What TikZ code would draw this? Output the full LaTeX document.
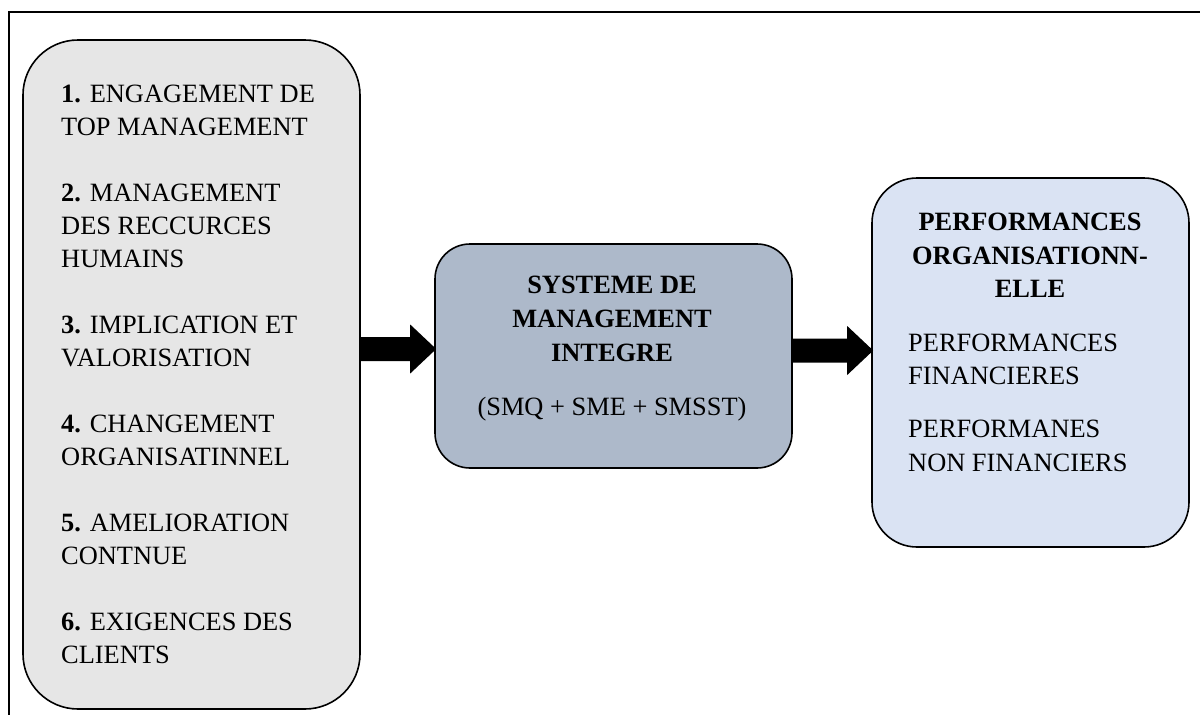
\documentclass[tikz,border=0pt]{standalone}
\usepackage{fontspec}
\setmainfont{Liberation Serif}
\usetikzlibrary{calc}

\definecolor{inputgray}{HTML}{E6E6E6}
\definecolor{corebluegray}{HTML}{ADB9CA}
\definecolor{resultblue}{HTML}{DAE3F3}

\newcommand\diagfont{\fontsize{26.4}{33.4}\selectfont}

\tikzset{
  panel/.style={draw=black, line width=1.6pt, inner sep=0pt},
  linetext/.style={inner sep=0pt, anchor=base west, font=\diagfont},
  centertext/.style={inner sep=0pt, anchor=base, font=\diagfont\bfseries},
  plaincenter/.style={inner sep=0pt, anchor=base, font=\diagfont},
  blockarrow/.style={fill=black},
}

% thick block arrow from the east side of #1 to the west side of #2, on the line y=#3
\newcommand\blockarrow[3]{%
  \fill[blockarrow] let \p1=(#1.east |- 0,#3), \p2=(#2.west |- 0,#3) in
    (\x1-1pt,\y1+12pt) -- (\x2-24pt,\y1+12pt) -- (\x2-24pt,\y1+24.5pt)
    -- (\x2+2pt,\y1) -- (\x2-24pt,\y1-24.5pt) -- (\x2-24pt,\y1-12pt)
    -- (\x1-1pt,\y1-12pt) -- cycle;}

\begin{document}
\begin{tikzpicture}[x=1pt, y=-1pt, font=\diagfont]
\useasboundingbox (0,0) rectangle (1200,715);

% frame lines along the top and left edges
\draw[line width=2pt] (9,715) -- (9,12) -- (1200,12);

% the three panels
\node[panel, fill=inputgray, rounded corners=55pt,
      minimum width=337pt, minimum height=669pt] (inputs) at (191.5,374.5) {};
\node[panel, fill=corebluegray, rounded corners=35pt,
      minimum width=357pt, minimum height=224pt] (core) at (613.5,356) {};
\node[panel, fill=resultblue, rounded corners=45pt,
      minimum width=317pt, minimum height=369pt] (result) at (1030.5,362.5) {};

% list of factors
\foreach \k/\t [count=\i] in {
  0/{\textbf{1.} ENGAGEMENT DE},
  1/{TOP MANAGEMENT},
  3/{\textbf{2.} MANAGEMENT},
  4/{DES RECCURCES},
  5/{HUMAINS},
  7/{\textbf{3.} IMPLICATION ET},
  8/{VALORISATION},
  10/{\textbf{4.} CHANGEMENT},
  11/{ORGANISATINNEL},
  13/{\textbf{5.} AMELIORATION},
  14/{CONTNUE},
  16/{\textbf{6.} EXIGENCES DES},
  17/{CLIENTS}}
  \node[linetext] (f\i) at (61,{102+33*\k}) {\t};

% integrated management system
\node[centertext] (c1) at (612,293) {SYSTEME DE};
\node[centertext] (c2) at (612,327) {MANAGEMENT};
\node[centertext] (c3) at (612,361) {INTEGRE};
\node[plaincenter] (c4) at (612,415) {(SMQ + SME + SMSST)};

% organisational performance
\node[centertext] (r1) at (1030,230) {PERFORMANCES};
\node[centertext] (r2) at (1030,264) {ORGANISATIONN-};
\node[centertext] (r3) at (1030,297) {ELLE};
\node[linetext] (r4) at (908,351) {PERFORMANCES};
\node[linetext] (r5) at (908,384) {FINANCIERES};
\node[linetext] (r6) at (908,437) {PERFORMANES};
\node[linetext] (r7) at (908,471) {NON FINANCIERS};

% flow arrows
\blockarrow{inputs}{core}{349}
\blockarrow{core}{result}{350.5}
\end{tikzpicture}
\end{document}
